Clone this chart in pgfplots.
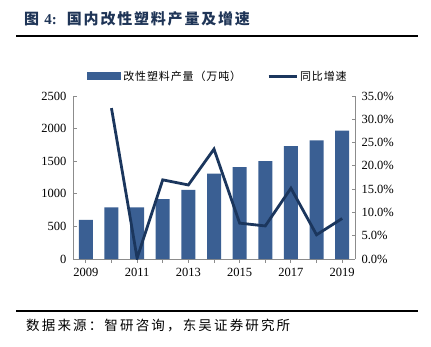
\documentclass[border=0pt]{standalone}
\usepackage{pgfplots}
\pgfplotsset{compat=1.18}
\usepackage{fontspec}
\setmainfont{Liberation Serif}
\newfontfamily\cjk{Noto Sans CJK SC}
\definecolor{barblue}{HTML}{3A5F93}
\definecolor{linenavy}{HTML}{1B365D}
\definecolor{axgray}{HTML}{8C8C8C}
\definecolor{titlenavy}{HTML}{1F3557}
\begin{document}
\begin{tikzpicture}
\useasboundingbox (0pt,0pt) rectangle (431pt,-346pt);
% title
\node[anchor=base west, inner sep=0, text=titlenavy] at (24pt,-24pt) {\cjk\bfseries\fontsize{15}{17}\selectfont\addfontfeature{LetterSpace=12}图 {\rmfamily\bfseries 4:}\hspace{10pt}国内改性塑料产量及增速};
\draw[line width=1.5pt] (16pt,-36pt) -- (418pt,-36pt);
% source
\draw[line width=1.5pt] (16pt,-311pt) -- (418pt,-311pt);
\node[anchor=base west, inner sep=0] at (26pt,-330pt) {\cjk\fontsize{13.5}{15}\selectfont\addfontfeature{LetterSpace=16}数据来源：智研咨询，东吴证券研究所};

\begin{axis}[
  at={(73pt,-259pt)}, anchor=south west,
  scale only axis, width=282pt, height=163pt,
  xmin=2008.5, xmax=2019.5,
  ymin=0, ymax=2500,
  ytick={0,500,...,2500},
  xtick={2009,...,2019},
  xticklabels={2009,,2011,,2013,,2015,,2017,,2019},
  axis x line*=bottom, axis y line*=left,
  axis line style={axgray, line width=0.8pt},
  tick style={axgray, line width=0.8pt},
  tick align=inside, major tick length=3.5pt,
  /pgf/number format/assume math mode=true,
  /pgf/number format/1000 sep={},
  ticklabel style={font=\fontsize{12.5}{14}\selectfont, black},
  yticklabel style={xshift=-3pt},
  xticklabel style={yshift=-2pt},
  ybar, bar width=14pt,
  legend columns=2,
  legend style={at={(0.5,1)}, anchor=south, yshift=10pt, xshift=4pt, draw=none, fill=none,
    font=\cjk\fontsize{11}{13}\selectfont\addfontfeature{LetterSpace=8},
    /tikz/every even column/.append style={column sep=24pt}},
]
\addplot[fill=barblue, draw=none, bar shift=0pt,
  legend image code/.code={\fill[barblue] (0pt,-4pt) rectangle (34pt,4pt);}]
  coordinates {(2009,600) (2010,790) (2011,790) (2012,920) (2013,1060) (2014,1310) (2015,1410) (2016,1500) (2017,1730) (2018,1820) (2019,1970)};
\addlegendentry{改性塑料产量（万吨）}
\addlegendimage{legend image code/.code={\draw[linenavy, line width=2.8pt] (0pt,0pt) -- (28pt,0pt);}}
\addlegendentry{同比增速}
\end{axis}

\begin{axis}[
  at={(73pt,-259pt)}, anchor=south west,
  scale only axis, width=282pt, height=163pt,
  xmin=2008.5, xmax=2019.5,
  ymin=0, ymax=35,
  ytick={0,5,...,35},
  axis x line=none, axis y line*=right,
  axis line style={axgray, line width=0.8pt},
  tick style={axgray, line width=0.8pt},
  tick align=inside, major tick length=3.5pt,
  /pgf/number format/assume math mode=true,
  /pgf/number format/.cd, fixed, fixed zerofill, precision=1, /pgfplots/.cd,
  yticklabel={\pgfmathprintnumber{\tick}\%},
  ticklabel style={font=\fontsize{12.5}{14}\selectfont, black},
  yticklabel style={xshift=3pt},
]
\addplot[linenavy, line width=2.8pt, mark=none, line join=miter]
  coordinates {(2010,32.4) (2011,0.2) (2012,17.0) (2013,15.9) (2014,23.6) (2015,7.7) (2016,7.1) (2017,15.2) (2018,5.2) (2019,8.7)};
\end{axis}
\end{tikzpicture}
\end{document}
